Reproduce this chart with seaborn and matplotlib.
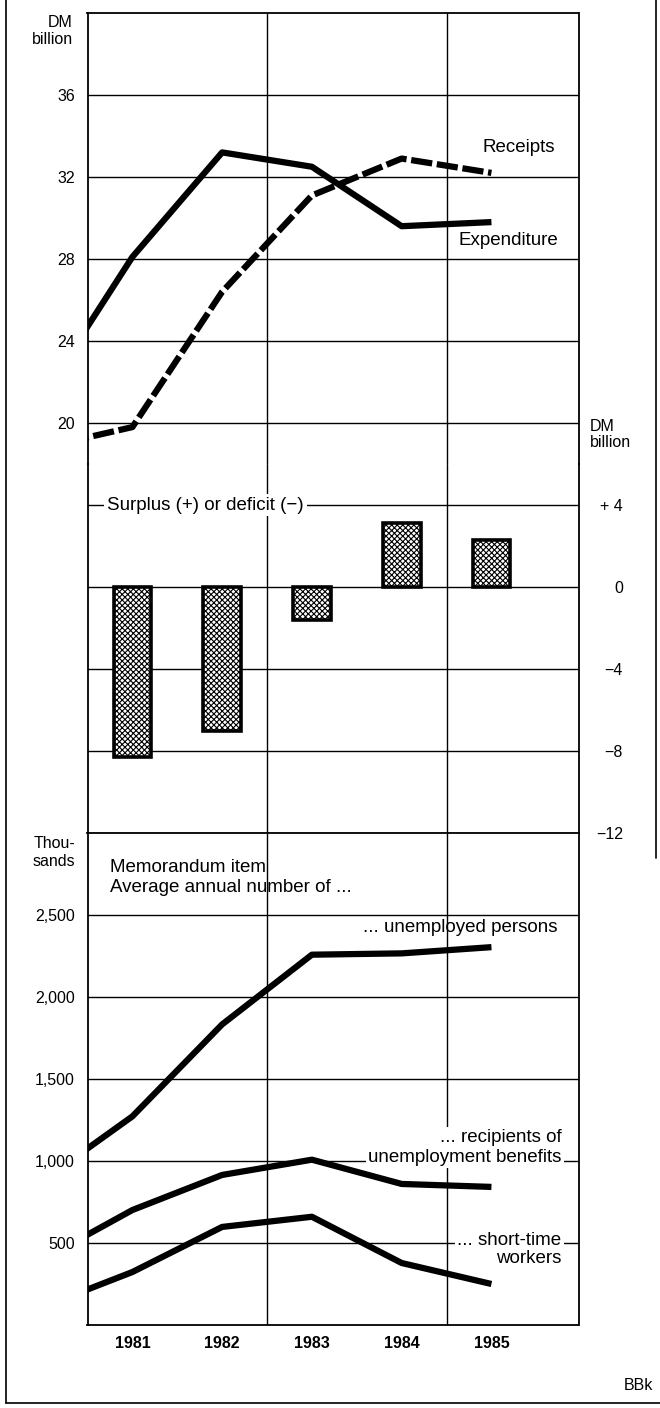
import pandas as pd
import seaborn as sns
import matplotlib.pyplot as plt
from matplotlib.lines import Line2D

# Federal Employment Institute finances, DM billion (first value = 1980, clipped at left edge)
years = [1980, 1981, 1982, 1983, 1984, 1985]
receipts = [18.8, 19.8, 26.4, 31.1, 32.9, 32.2]
expenditure = [21.3, 28.1, 33.2, 32.5, 29.6, 29.8]

# surplus (+) / deficit (-), DM billion
bar_years = [1981, 1982, 1983, 1984, 1985]
balance = [-8.3, -7.0, -1.6, 3.1, 2.3]

# memorandum item, thousands
unemployed = [880, 1272, 1833, 2258, 2266, 2304]
benefit_recipients = [400, 701, 915, 1008, 860, 842]
short_time = [110, 323, 598, 660, 378, 250]

year_labels = ['1981', '1982', '1983', '1984', '1985']
left_ticks = [20, 24, 28, 32, 36]
right_ticks = [-12, -8, -4, 0, 4]
right_labels = ['\u221212', '\u22128', '\u22124', '0', '+ 4']
thou_ticks = [500, 1000, 1500, 2000, 2500]

sns.set_style('white')
plt.rcParams['font.family'] = ['Liberation Sans', 'DejaVu Sans']
plt.rcParams['text.color'] = 'black'
plt.rcParams['xtick.color'] = 'black'
plt.rcParams['ytick.color'] = 'black'
plt.rcParams['hatch.linewidth'] = 0.8

W, H = 660, 1408
fig = plt.figure(figsize=(W / 100, H / 100), dpi=100)


def box(top, bottom):
    return [87.5 / W, 1 - bottom / H, 491 / W, (bottom - top) / H]


ax1 = fig.add_axes(box(13, 464))
ax2 = fig.add_axes(box(464, 833))
ax3 = fig.add_axes(box(833, 1325))

# --- top panel: receipts and expenditure
fin = pd.DataFrame({
    'x': [y + 0.5 for y in years] * 2,
    'value': receipts + expenditure,
    'series': ['Receipts'] * len(years) + ['Expenditure'] * len(years),
})
sns.lineplot(data=fin, x='x', y='value', style='series', units='series', estimator=None,
             dashes={'Receipts': (3.4, 0.75), 'Expenditure': ''}, color='black',
             lw=4.5, legend=False, ax=ax1, sort=False,
             solid_capstyle='butt', dash_capstyle='butt')

# --- middle panel: surplus / deficit bars
sns.barplot(x=[y + 0.5 for y in bar_years], y=balance, native_scale=True, width=0.42,
            color='white', edgecolor='black', linewidth=2.6, hatch='xxxxxx', ax=ax2)

# --- bottom panel: labour market
emp = pd.DataFrame({
    'x': [y + 0.5 for y in years] * 3,
    'value': unemployed + benefit_recipients + short_time,
    'series': ['u'] * 6 + ['r'] * 6 + ['s'] * 6,
})
sns.lineplot(data=emp, x='x', y='value', units='series', estimator=None, color='black',
             lw=4.5, legend=False, ax=ax3, sort=False, solid_capstyle='butt')

bounds = [y + 1 for y in bar_years]
x0, x1 = bar_years[0], bar_years[0] + 5.47
for ax in (ax1, ax2, ax3):
    ax.set_xlim(x0, x1)
    ax.set_xlabel('')
    ax.set_ylabel('')
    ax.set_axisbelow(True)
    ax.grid(axis='y', color='black', lw=1.0)
    ax.grid(axis='x', visible=False)
    for b in bounds[1::2]:
        ax.axvline(b, color='black', lw=1.0, zorder=0.5)
    for s in ax.spines.values():
        s.set_color('black')
        s.set_linewidth(1.3)
    ax.tick_params(axis='y', length=0, labelsize=11.5, pad=9)
    ax.patch.set_alpha(0)

for ax in (ax1, ax2):
    ax.set_xticks([])
    ax.spines['bottom'].set_visible(False)
ax2.spines['top'].set_visible(False)

ax1.set_ylim(18, 40)
ax1.set_yticks(left_ticks)

ax2.set_ylim(-12, 6)
ax2.yaxis.tick_right()
ax2.set_yticks(right_ticks, labels=right_labels)
ax2.tick_params(axis='y', pad=32)
for lab in ax2.get_yticklabels():
    lab.set_horizontalalignment('right')

ax3.set_ylim(0, 3000)
ax3.set_yticks(thou_ticks, labels=[f'{v:,}' for v in thou_ticks])
ax3.set_xticks([y + 0.5 for y in bar_years], labels=year_labels)
ax3.set_xticks(bounds, minor=True)
ax3.tick_params(axis='x', which='major', length=0, pad=8, labelsize=11.5)
ax3.tick_params(axis='x', which='minor', length=15, width=1.3, direction='out', color='black')
for lab in ax3.get_xticklabels():
    lab.set_fontweight('bold')

# --- annotations
fs = 13.5
ax1.text(1986.21, 33.2, 'Receipts', ha='right', va='baseline', fontsize=fs)
ax1.text(1986.24, 28.7, 'Expenditure', ha='right', va='baseline', fontsize=fs)
ax2.text(1981.22, 4, 'Surplus (+) or deficit (\u2212)', ha='left', va='center', fontsize=fs,
         bbox=dict(facecolor='white', edgecolor='none', pad=2))
ax3.text(1981.25, 2762, 'Memorandum item', ha='left', va='baseline', fontsize=fs)
ax3.text(1981.25, 2640, 'Average annual number of ...', ha='left', va='baseline', fontsize=fs)
ax3.text(1986.24, 2396, '... unemployed persons', ha='right', va='baseline', fontsize=fs)
wbox = dict(facecolor='white', edgecolor='none', pad=1.5)
ax3.text(1986.28, 1116, '... recipients of', ha='right', va='baseline', fontsize=fs, bbox=wbox)
ax3.text(1986.28, 994, 'unemployment benefits', ha='right', va='baseline', fontsize=fs, bbox=wbox)
ax3.text(1986.28, 488, '... short-time', ha='right', va='baseline', fontsize=fs, bbox=wbox)
ax3.text(1986.28, 378, 'workers', ha='right', va='baseline', fontsize=fs, bbox=wbox)

# unit labels
fig.text(73 / W, 1 - 27 / H, 'DM', ha='right', va='baseline', fontsize=11.5)
fig.text(73 / W, 1 - 44 / H, 'billion', ha='right', va='baseline', fontsize=11.5)
fig.text(590 / W, 1 - 431 / H, 'DM', ha='left', va='baseline', fontsize=11.5)
fig.text(590 / W, 1 - 447 / H, 'billion', ha='left', va='baseline', fontsize=11.5)
fig.text(75 / W, 1 - 848 / H, 'Thou-', ha='right', va='baseline', fontsize=11.5)
fig.text(75 / W, 1 - 866 / H, 'sands', ha='right', va='baseline', fontsize=11.5)
fig.text(653 / W, 1 - 1390 / H, 'BBk', ha='right', va='baseline', fontsize=11.5)

# outer frame
fig.add_artist(Line2D([6 / W, 6 / W], [1, 1 - 1403 / H], color='black', lw=1.2))
fig.add_artist(Line2D([6 / W, 1], [1 - 1403 / H, 1 - 1403 / H], color='black', lw=1.2))
fig.add_artist(Line2D([656 / W, 656 / W], [1, 1 - 858 / H], color='black', lw=1.2))

fig.savefig('out.png', dpi=100)
